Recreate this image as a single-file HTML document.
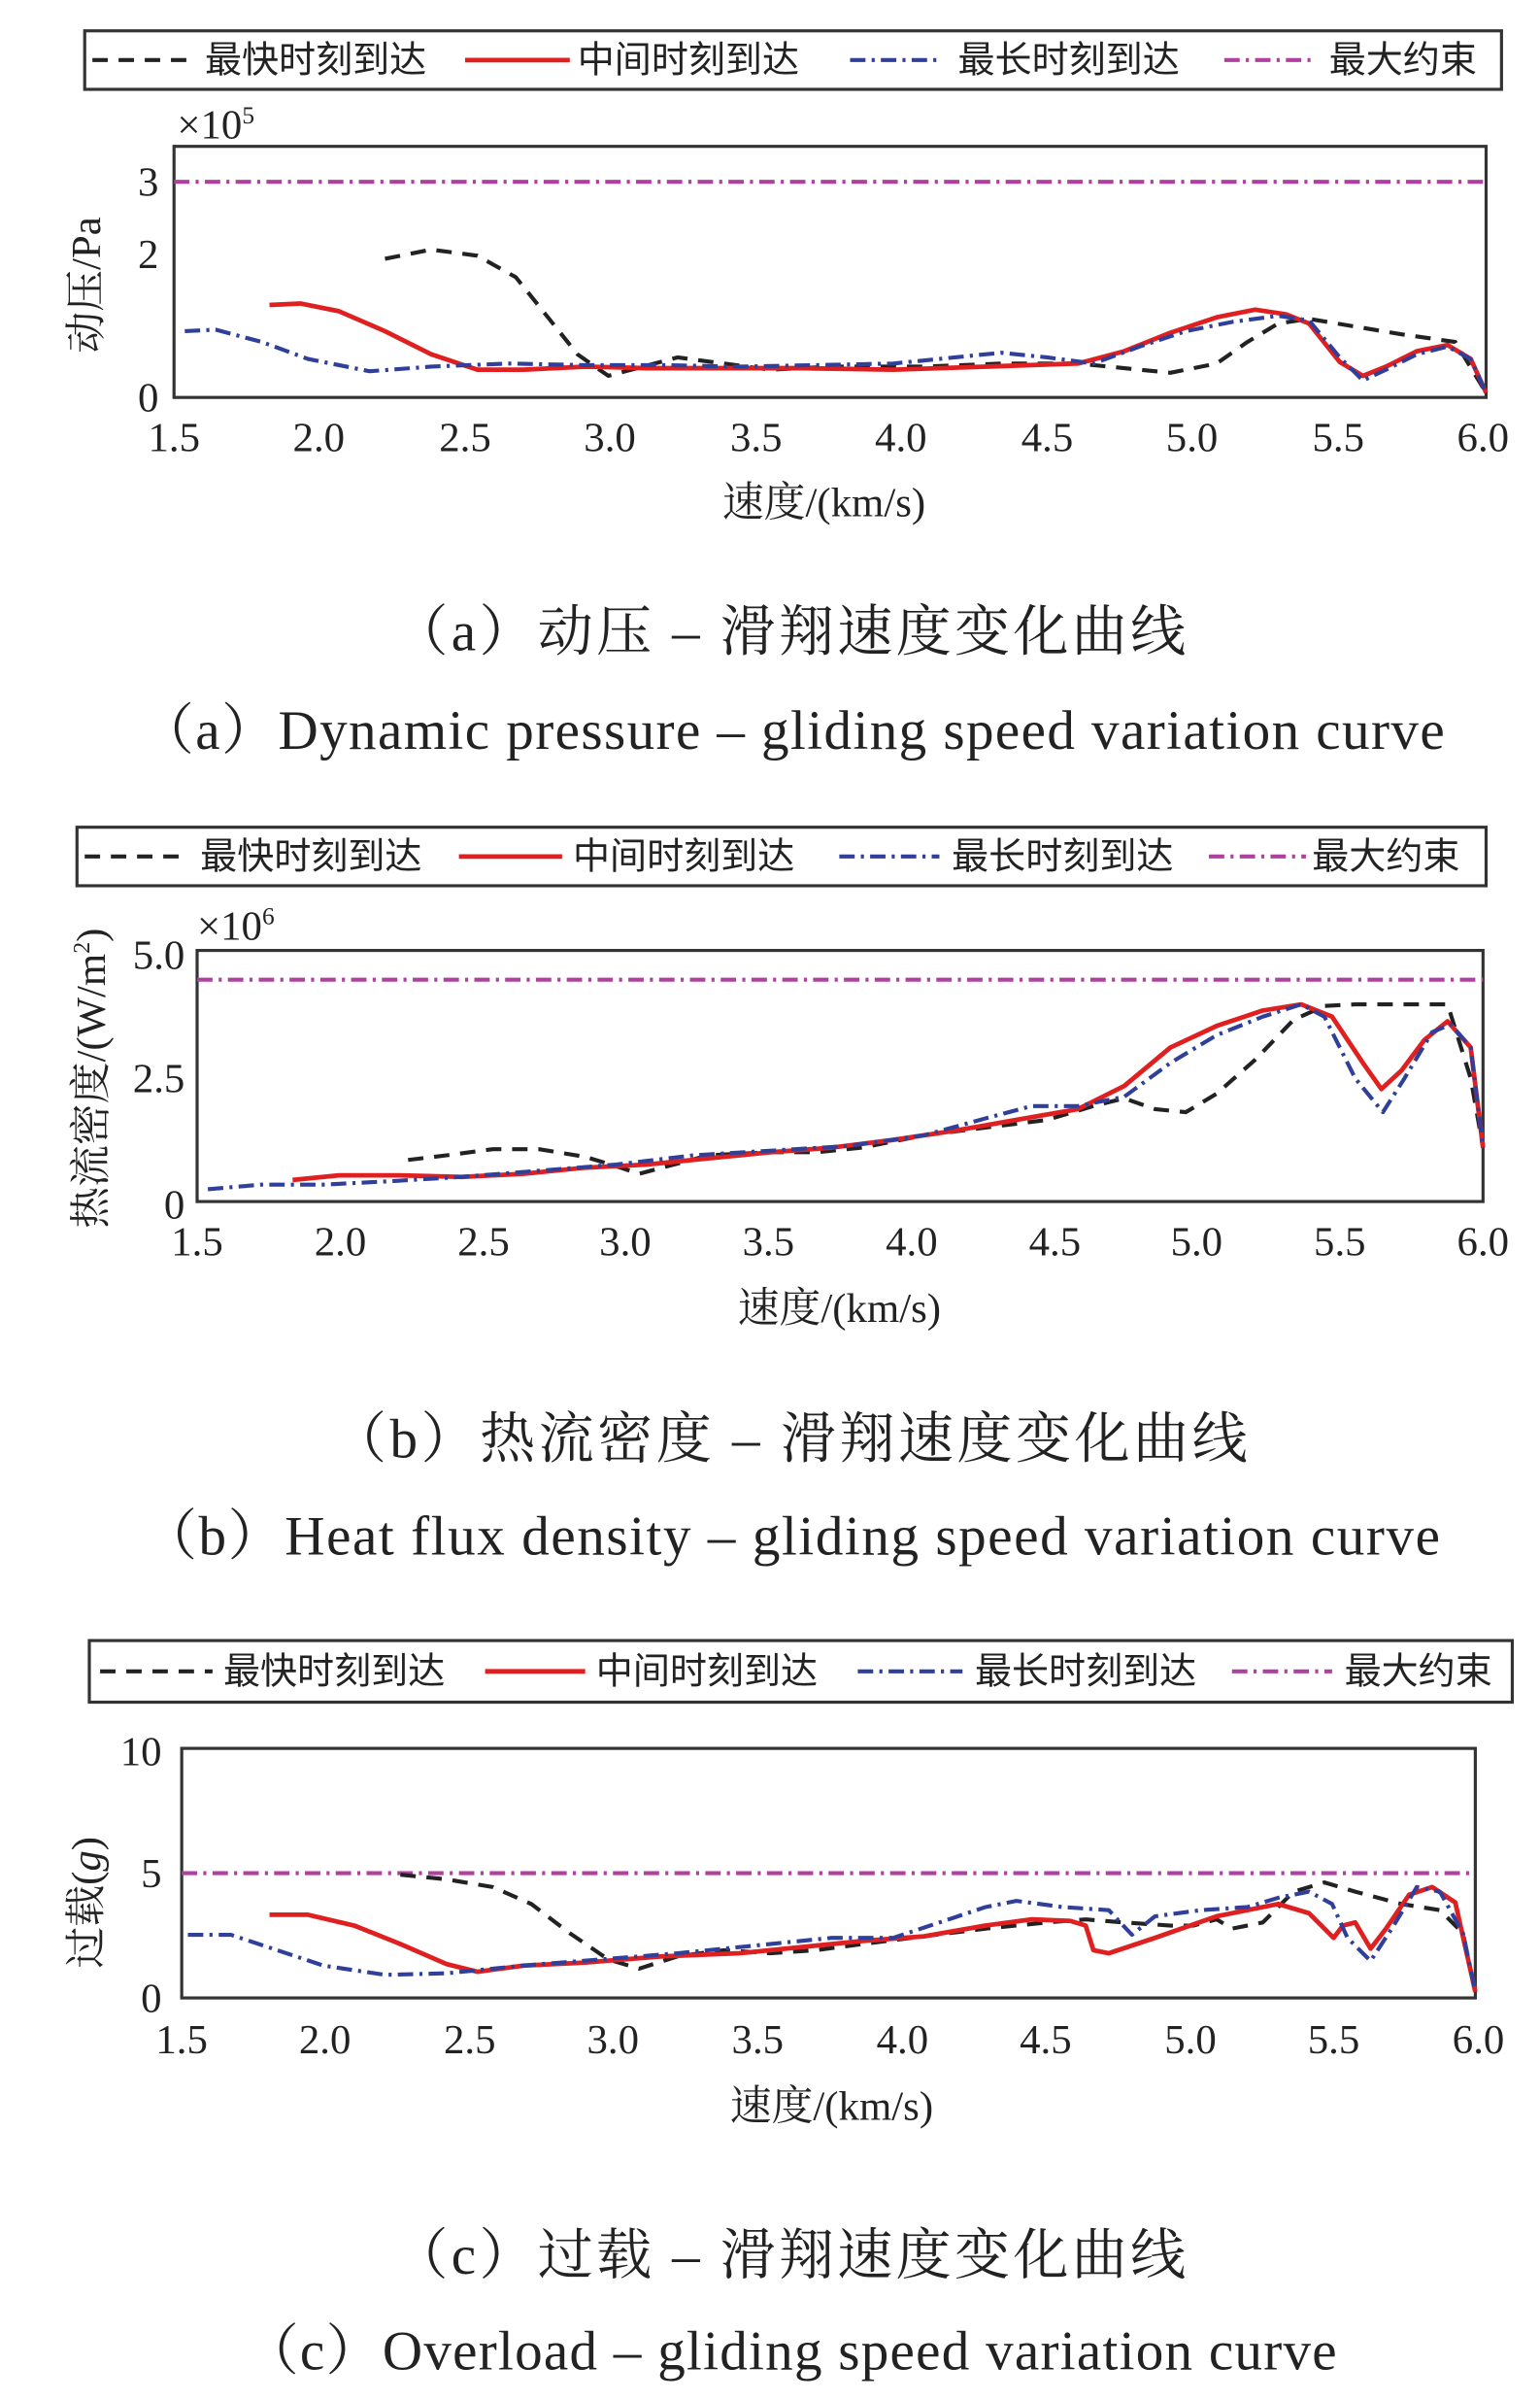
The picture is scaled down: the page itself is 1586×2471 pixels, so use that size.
<!DOCTYPE html>
<html><head><meta charset="utf-8"><style>
html,body{margin:0;padding:0;background:#fff;}
svg{display:block;}
text{font-family:"Liberation Serif","Noto Serif CJK SC",serif;fill:#222;}
.t{font-size:27px;}
.lg{font-size:24px;font-family:"Liberation Sans","Noto Sans CJK SC",sans-serif;}
.cap{font-size:36px;}
.k{fill:none;stroke:#222;stroke-width:2.6;stroke-dasharray:10,7;stroke-linejoin:round;}
.r{fill:none;stroke:#e02020;stroke-width:3;stroke-linejoin:round;}
.b{fill:none;stroke:#2f3f9a;stroke-width:2.6;stroke-dasharray:10,4,2,4;stroke-linejoin:round;}
.p{fill:none;stroke:#b040a0;stroke-width:2.6;stroke-dasharray:10,4,2,4;}
.box{fill:none;stroke:#333;stroke-width:2;}
</style></head><body>
<svg width="1586" height="2471" viewBox="0 0 1000 1558" xmlns="http://www.w3.org/2000/svg">
<!-- Panel a -->
<rect class="box" x="55" y="20" width="920" height="38"/>
<line class="k" x1="60" y1="39" x2="125" y2="39"/><text class="lg" x="133" y="47">最快时刻到达</text>
<line class="r" x1="302" y1="39" x2="370" y2="39"/><text class="lg" x="375" y="47">中间时刻到达</text>
<line class="b" x1="552" y1="39" x2="612" y2="39"/><text class="lg" x="622" y="47">最长时刻到达</text>
<line class="p" x1="795" y1="39" x2="855" y2="39"/><text class="lg" x="863" y="47">最大约束</text>
<rect class="box" x="113" y="95" width="852" height="163"/>
<text class="t" x="115" y="90">×10<tspan font-size="16" dy="-10">5</tspan></text>
<text class="t" x="103" y="127" text-anchor="end">3</text>
<text class="t" x="103" y="174" text-anchor="end">2</text>
<text class="t" x="103" y="267" text-anchor="end">0</text>
<g class="t" text-anchor="middle">
<text x="113" y="293">1.5</text><text x="207" y="293">2.0</text><text x="302" y="293">2.5</text><text x="396" y="293">3.0</text><text x="491" y="293">3.5</text><text x="585" y="293">4.0</text><text x="680" y="293">4.5</text><text x="774" y="293">5.0</text><text x="869" y="293">5.5</text><text x="963" y="293">6.0</text>
</g>
<text class="t" x="535" y="335" text-anchor="middle" font-size="29">速度/(km/s)</text>
<text class="t" transform="translate(65,185) rotate(-90)" text-anchor="middle" font-size="29">动压/Pa</text>
<line class="p" x1="113" y1="118" x2="965" y2="118"/>
<polyline class="k" points="250,168 280,162 310,166 335,180 355,205 375,230 395,244 410,240 440,232 470,236 500,240 540,238 600,238 650,236 700,236 740,240 760,242 790,236 810,222 830,210 850,207 880,212 910,217 945,222 965,255"/>
<polyline class="r" points="175,198 195,197 220,202 250,215 280,230 310,240 340,240 380,238 420,239 470,239 520,239 580,240 640,238 700,236 730,228 760,216 790,206 815,201 835,204 850,210 870,235 885,244 900,238 920,228 940,224 955,233 965,255"/>
<polyline class="b" points="120,215 140,214 170,222 200,233 240,241 280,238 330,236 380,237 430,237 480,238 530,237 580,236 620,232 650,229 680,232 710,236 740,225 770,215 800,209 830,205 850,208 870,232 885,247 900,240 920,230 940,225 955,233 965,255"/>
<text class="cap" x="255" y="422" textLength="515" lengthAdjust="spacing">（a）动压 – 滑翔速度变化曲线</text>
<text class="cap" x="90" y="486" textLength="848" lengthAdjust="spacing">（a）Dynamic pressure – gliding speed variation curve</text>

<!-- Panel b -->
<rect class="box" x="50" y="537" width="915" height="38"/>
<line class="k" x1="55" y1="556" x2="122" y2="556"/><text class="lg" x="130" y="564">最快时刻到达</text>
<line class="r" x1="298" y1="556" x2="365" y2="556"/><text class="lg" x="372" y="564">中间时刻到达</text>
<line class="b" x1="545" y1="556" x2="610" y2="556"/><text class="lg" x="618" y="564">最长时刻到达</text>
<line class="p" x1="785" y1="556" x2="848" y2="556"/><text class="lg" x="852" y="564">最大约束</text>
<rect class="box" x="128" y="617" width="835" height="163"/>
<text class="t" x="128" y="610">×10<tspan font-size="16" dy="-10">6</tspan></text>
<text class="t" x="120" y="629" text-anchor="end">5.0</text>
<text class="t" x="120" y="709" text-anchor="end">2.5</text>
<text class="t" x="120" y="791" text-anchor="end">0</text>
<g class="t" text-anchor="middle">
<text x="128" y="815">1.5</text><text x="221" y="815">2.0</text><text x="314" y="815">2.5</text><text x="406" y="815">3.0</text><text x="499" y="815">3.5</text><text x="592" y="815">4.0</text><text x="685" y="815">4.5</text><text x="777" y="815">5.0</text><text x="870" y="815">5.5</text><text x="963" y="815">6.0</text>
</g>
<text class="t" x="545" y="858" text-anchor="middle" font-size="29">速度/(km/s)</text>
<text class="t" transform="translate(68,700) rotate(-90)" text-anchor="middle" font-size="27">热流密度/(W/m<tspan font-size="15" dy="-10">2</tspan><tspan dy="10">)</tspan></text>
<line class="p" x1="128" y1="636" x2="963" y2="636"/>
<polyline class="k" points="265,753 290,750 320,746 350,746 380,751 400,757 415,762 430,758 460,750 500,748 530,748 560,745 600,737 640,732 680,727 710,718 730,713 750,720 770,722 790,710 815,688 840,662 860,653 880,652 920,652 940,652 955,700 963,745"/>
<polyline class="r" points="190,766 220,763 260,763 300,764 340,762 380,758 420,756 460,752 500,748 540,745 580,740 620,734 660,727 700,720 730,705 760,680 790,666 820,656 845,652 865,660 885,690 897,707 910,695 925,675 940,663 955,680 963,745"/>
<polyline class="b" points="135,772 170,769 210,769 250,767 300,764 350,760 400,756 450,750 500,747 550,744 600,737 640,726 670,718 700,718 730,712 760,690 790,672 820,660 845,652 860,660 880,700 898,722 912,700 930,670 942,665 955,680 963,745"/>
<text class="cap" x="215" y="946" textLength="595" lengthAdjust="spacing">（b）热流密度 – 滑翔速度变化曲线</text>
<text class="cap" x="92" y="1009" textLength="843" lengthAdjust="spacing">（b）Heat flux density – gliding speed variation curve</text>

<!-- Panel c -->
<rect class="box" x="58" y="1065" width="924" height="40"/>
<line class="k" x1="65" y1="1085" x2="138" y2="1085"/><text class="lg" x="145" y="1093">最快时刻到达</text>
<line class="r" x1="315" y1="1085" x2="380" y2="1085"/><text class="lg" x="387" y="1093">中间时刻到达</text>
<line class="b" x1="557" y1="1085" x2="625" y2="1085"/><text class="lg" x="633" y="1093">最长时刻到达</text>
<line class="p" x1="800" y1="1085" x2="865" y2="1085"/><text class="lg" x="873" y="1093">最大约束</text>
<rect class="box" x="118" y="1135" width="840" height="162"/>
<text class="t" x="105" y="1146" text-anchor="end">10</text>
<text class="t" x="105" y="1225" text-anchor="end">5</text>
<text class="t" x="105" y="1306" text-anchor="end">0</text>
<g class="t" text-anchor="middle">
<text x="118" y="1333">1.5</text><text x="211" y="1333">2.0</text><text x="305" y="1333">2.5</text><text x="398" y="1333">3.0</text><text x="492" y="1333">3.5</text><text x="586" y="1333">4.0</text><text x="679" y="1333">4.5</text><text x="773" y="1333">5.0</text><text x="866" y="1333">5.5</text><text x="960" y="1333">6.0</text>
</g>
<text class="t" x="540" y="1376" text-anchor="middle" font-size="29">速度/(km/s)</text>
<text class="t" transform="translate(65,1235) rotate(-90)" text-anchor="middle" font-size="29">过载(<tspan font-style="italic">g</tspan>)</text>
<line class="p" x1="118" y1="1216" x2="958" y2="1216"/>
<polyline class="k" points="260,1217 290,1220 320,1225 345,1236 370,1255 395,1272 415,1278 440,1270 470,1266 500,1268 530,1266 560,1262 600,1257 640,1252 680,1248 705,1246 730,1248 760,1250 775,1250 790,1246 800,1252 820,1248 840,1228 860,1222 880,1228 910,1236 935,1240 950,1255 958,1293"/>
<polyline class="r" points="175,1243 200,1243 230,1250 260,1262 290,1275 310,1280 340,1276 380,1274 430,1270 480,1268 520,1264 560,1260 600,1257 640,1250 670,1246 695,1247 705,1250 710,1266 720,1268 750,1258 790,1244 830,1236 850,1242 866,1258 872,1250 880,1248 890,1265 900,1252 915,1230 930,1225 945,1235 958,1293"/>
<polyline class="b" points="122,1256 150,1256 180,1266 210,1276 250,1282 290,1281 340,1276 390,1272 440,1268 500,1262 540,1258 580,1258 610,1248 640,1238 660,1234 690,1238 720,1240 735,1256 750,1244 780,1240 810,1238 830,1232 850,1228 865,1236 875,1258 890,1273 905,1250 920,1225 935,1228 950,1255 958,1293"/>
<text class="cap" x="255" y="1476" textLength="515" lengthAdjust="spacing">（c）过载 – 滑翔速度变化曲线</text>
<text class="cap" x="158" y="1538" textLength="710" lengthAdjust="spacing">（c）Overload – gliding speed variation curve</text>
</svg>
</body></html>
